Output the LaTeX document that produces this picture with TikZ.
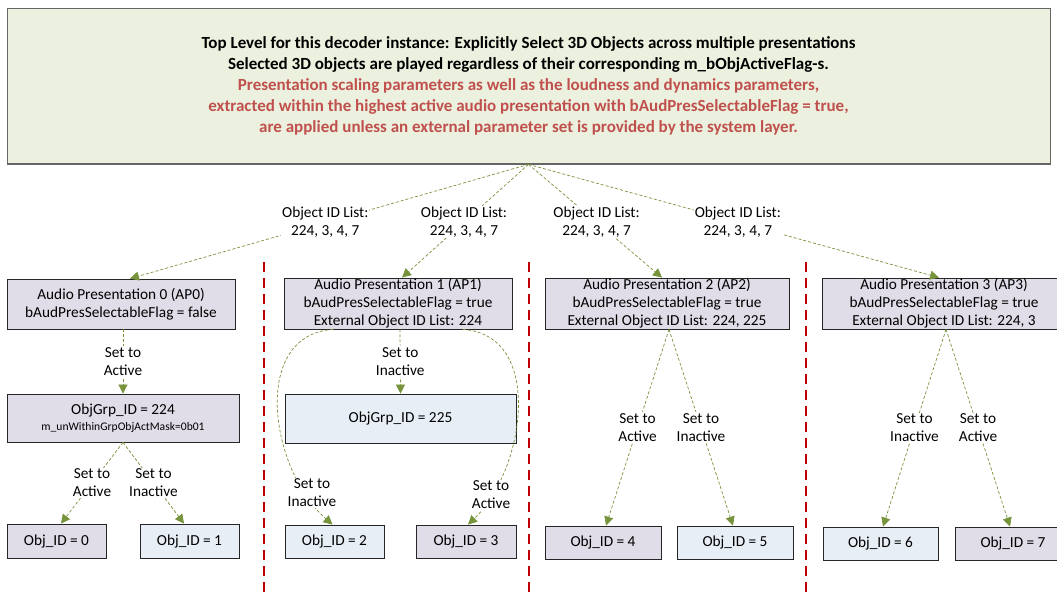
\documentclass[tikz,border=0pt]{standalone}
\usepackage{fontspec}
\setmainfont{Carlito}
\usetikzlibrary{arrows.meta}
\definecolor{lav}{HTML}{E0DCE8}
\definecolor{lblue}{HTML}{E8EEF6}
\definecolor{topg}{HTML}{EBF1DE}
\definecolor{olv}{HTML}{77933C}
\definecolor{sepred}{HTML}{C00000}
\definecolor{txtred}{HTML}{C0504D}
\begin{document}
\begin{tikzpicture}[x=1pt,y=-1pt,
  box/.style={draw=black!85, line width=0.8pt, inner sep=0pt, align=center, font=\fontsize{15.3}{18}\selectfont},
  act/.style={box, fill=lav},
  inact/.style={box, fill=lblue},
  conn/.style={draw=olv, line width=0.7pt, dash pattern=on 3pt off 2pt, -{Triangle[length=9pt,width=9pt]}},
  lbl/.style={fill=white, inner sep=1pt, align=center, font=\fontsize{15.3}{18}\selectfont, text=black},
  sepline/.style={draw=sepred, line width=1.8pt, dash pattern=on 10pt off 6pt}]
\useasboundingbox (0,0) rectangle (1057,593);

% top box
\node[draw=black!60, line width=0.8pt, fill=topg, minimum width=1043pt, minimum height=156pt, inner sep=0pt, align=center,
  font=\bfseries\fontsize{17}{21}\selectfont] (top) at (528.5,86)
  {Top Level for this decoder instance: Explicitly Select 3D Objects across multiple presentations\\
   Selected 3D objects are played regardless of their corresponding m\_bObjActiveFlag-s.\\
   \textcolor{txtred}{Presentation scaling parameters as well as the loudness and dynamics parameters,}\\
   \textcolor{txtred}{extracted within the highest active audio presentation with bAudPresSelectableFlag = true,}\\
   \textcolor{txtred}{are applied unless an external parameter set is provided by the system layer.}};
\draw[black!60, line width=1.8pt] (top.south west) -- (top.south east);

% separators
\draw[sepline] (264,262) -- (264,593);
\draw[sepline] (529,262) -- (529,593);
\draw[sepline] (806,262) -- (806,593);

% audio presentations
\node[act, minimum width=228pt, minimum height=50pt] (AP0) at (121,304) {Audio Presentation 0 (AP0)\\bAudPresSelectableFlag = false};
\node[act, minimum width=228pt, minimum height=51pt] (AP1) at (398,303.5) {Audio Presentation 1 (AP1)\\bAudPresSelectableFlag = true\\External Object ID List: 224};
\node[act, minimum width=244pt, minimum height=51pt] (AP2) at (667,303.5) {Audio Presentation 2 (AP2)\\bAudPresSelectableFlag = true\\External Object ID List: 224, 225};
\node[act, minimum width=244pt, minimum height=51pt] (AP3) at (944,303.5) {Audio Presentation 3 (AP3)\\bAudPresSelectableFlag = true\\External Object ID List: 224, 3};

% groups
\node[act, minimum width=232pt, minimum height=48pt] (G224) at (123,418) {ObjGrp\_ID = 224\\[-2pt]{\fontsize{11.6}{13}\selectfont m\_unWithinGrpObjActMask=0b01}};
\node[inact, minimum width=231pt, minimum height=49pt] (G225) at (400.5,418.5) {ObjGrp\_ID = 225};

% objects
\node[act, minimum width=99pt, minimum height=34pt] (O0) at (56.5,541) {Obj\_ID = 0};
\node[inact, minimum width=99pt, minimum height=34pt] (O1) at (189.5,541) {Obj\_ID = 1};
\node[inact, minimum width=99pt, minimum height=33pt] (O2) at (334.5,541.5) {Obj\_ID = 2};
\node[act, minimum width=100pt, minimum height=33pt] (O3) at (466,541.5) {Obj\_ID = 3};
\node[act, minimum width=116pt, minimum height=33pt] (O4) at (603,542.5) {Obj\_ID = 4};
\node[inact, minimum width=116pt, minimum height=33pt] (O5) at (735,542.5) {Obj\_ID = 5};
\node[inact, minimum width=115pt, minimum height=33pt] (O6) at (880.5,543.5) {Obj\_ID = 6};
\node[act, minimum width=116pt, minimum height=33pt] (O7) at (1013,543.5) {Obj\_ID = 7};

% top connectors
\draw[conn] (top.south) -- node[lbl, pos=0.51] (L0) {Object ID List:\\224, 3, 4, 7} ([xshift=9pt]AP0.north);
\draw[conn] (top.south) -- node[lbl, pos=0.51] (L1) {Object ID List:\\224, 3, 4, 7} ([xshift=4pt]AP1.north);
\draw[conn] (top.south) -- node[lbl, pos=0.51] (L2) {Object ID List:\\224, 3, 4, 7} ([xshift=-5pt]AP2.north);
\draw[conn] (top.south) -- node[lbl, pos=0.51] (L3) {Object ID List:\\224, 3, 4, 7} ([xshift=-5pt]AP3.north);

% column 0
\draw[conn] ([xshift=2pt]AP0.south) -- node[lbl] (S0) {Set to\\Active} (G224.north);
\draw[conn] (G224.south) -- node[lbl] (S1) {Set to\\Active} ([xshift=4.5pt]O0.north);
\draw[conn] (G224.south) -- node[lbl] (S2) {Set to\\Inactive} ([xshift=-5.5pt]O1.north);

% column 1
\draw[conn] ([xshift=2pt]AP1.south) -- node[lbl] (S3) {Set to\\Inactive} (G225.north);
\draw[conn] ([xshift=-65pt]AP1.south) .. controls (250,335) and (270,470) .. ([xshift=-2pt]O2.north);
\draw[conn] ([xshift=65pt]AP1.south) .. controls (545,335) and (525,470) .. ([xshift=2pt]O3.north);
\node[lbl] (S4) at (312,493) {Set to\\Inactive};
\node[lbl] (S5) at (491,495) {Set to\\Active};

% column 2
\draw[conn] ([xshift=2pt]AP2.south) -- node[lbl] (S6) {Set to\\Active} ([xshift=3pt]O4.north);
\draw[conn] ([xshift=2pt]AP2.south) -- node[lbl] (S7) {Set to\\Inactive} ([xshift=-2pt]O5.north);

% column 3
\draw[conn] ([xshift=2pt]AP3.south) -- node[lbl] (S8) {Set to\\Inactive} ([xshift=2.5pt]O6.north);
\draw[conn] ([xshift=2pt]AP3.south) -- node[lbl] (S9) {Set to\\Active} ([xshift=-3pt]O7.north);
\end{tikzpicture}
\end{document}
